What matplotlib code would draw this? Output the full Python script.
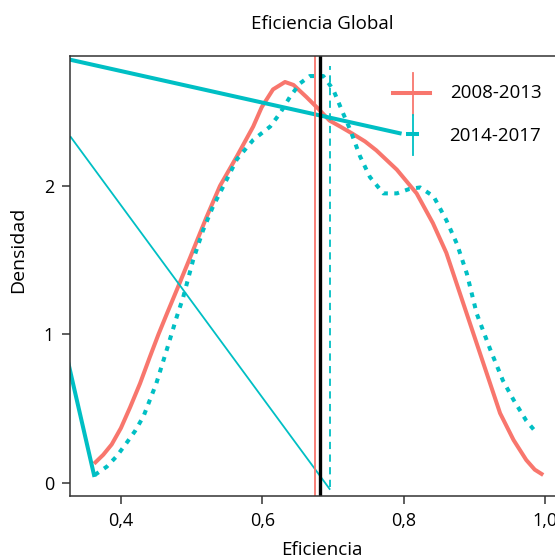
import matplotlib
matplotlib.use("Agg")
import matplotlib.pyplot as plt
from matplotlib.ticker import FuncFormatter

plt.rcParams['font.family'] = ['Open Sans', 'DejaVu Sans']

ROJO = '#F8766D'
TURQ = '#00BFC4'

# densidad 2008-2013
x_0813 = [0.362, 0.375, 0.387, 0.400, 0.413, 0.427, 0.441, 0.453, 0.465, 0.479,
          0.498, 0.521, 0.540, 0.564, 0.587, 0.599, 0.615, 0.632, 0.644, 0.662,
          0.681, 0.695, 0.710, 0.728, 0.745, 0.761, 0.790, 0.818, 0.841, 0.860,
          0.879, 0.898, 0.917, 0.936, 0.955, 0.973, 0.985, 0.997]
y_0813 = [0.13, 0.19, 0.26, 0.37, 0.51, 0.67, 0.85, 1.00, 1.14, 1.30,
          1.52, 1.79, 2.00, 2.20, 2.40, 2.53, 2.65, 2.70, 2.68, 2.60,
          2.51, 2.44, 2.40, 2.35, 2.30, 2.24, 2.11, 1.95, 1.75, 1.55,
          1.28, 1.01, 0.74, 0.47, 0.29, 0.155, 0.09, 0.054]

# densidad 2014-2017
x_1417 = [0.363, 0.380, 0.394, 0.408, 0.420, 0.432, 0.450, 0.465, 0.479, 0.488,
          0.502, 0.516, 0.530, 0.545, 0.564, 0.587, 0.611, 0.625, 0.639, 0.653,
          0.667, 0.686, 0.700, 0.714, 0.724, 0.738, 0.752, 0.771, 0.790, 0.808,
          0.823, 0.842, 0.860, 0.875, 0.889, 0.903, 0.922, 0.940, 0.955, 0.973, 0.988]
y_1417 = [0.054, 0.11, 0.18, 0.27, 0.35, 0.45, 0.67, 0.90, 1.12, 1.25,
          1.50, 1.70, 1.86, 2.00, 2.18, 2.31, 2.40, 2.49, 2.60, 2.69,
          2.74, 2.74, 2.65, 2.49, 2.38, 2.20, 2.06, 1.95, 1.95, 1.98,
          1.99, 1.93, 1.77, 1.61, 1.41, 1.14, 0.90, 0.69, 0.56, 0.42, 0.335]

# segmentos rectos turquesa
seg_grueso_1 = ([0.300, 0.794], [2.88, 2.355])
seg_grueso_2 = ([0.320, 0.362], [0.925, 0.054])
seg_fino = ([0.329, 0.695], [2.33, -0.04])

# medias
media_0813 = 0.674
media_total = 0.681
media_1417 = 0.695

etiquetas = ['2008-2013', '2014-2017']

fig = plt.figure(figsize=(5.55, 5.55), dpi=100)
ax = fig.add_axes([0.1261, 0.1063, 0.908, 0.7928])

ax.plot(x_0813, y_0813, color=ROJO, lw=2.9, solid_capstyle='butt')
ax.plot(x_1417, y_1417, color=TURQ, lw=2.9, linestyle=(0, (1.2, 1.6)))

ax.plot(*seg_grueso_1, color=TURQ, lw=2.9)
ax.plot(*seg_grueso_2, color=TURQ, lw=2.9)
ax.plot(*seg_fino, color=TURQ, lw=1.3)

ax.axvline(media_0813, color=ROJO, lw=1.3)
ax.axvline(media_total, color='black', lw=2.4)
ax.vlines(media_1417, -0.025, 2.81, color=TURQ, lw=1.3, linestyles=(0, (4, 3)))

# leyenda manual
tr = ax.transAxes
ax.plot([0.641, 0.714], [0.916, 0.916], color=ROJO, lw=2.9, transform=tr, clip_on=False)
ax.plot([0.680, 0.680], [0.961, 0.866], color=ROJO, lw=1.3, transform=tr, clip_on=False)
ax.plot([0.680, 0.680], [0.866, 0.775], color=TURQ, lw=1.3, transform=tr, clip_on=False)
ax.plot([0.671, 0.688], [0.822, 0.822], color=TURQ, lw=2.9, transform=tr, clip_on=False)
ax.text(0.754, 0.916, etiquetas[0], transform=tr, va='center', ha='left', fontsize=13.5)
ax.text(0.752, 0.818, etiquetas[1], transform=tr, va='center', ha='left', fontsize=13.5)

ax.set_xlim(0.328, 1.0404)
ax.set_ylim(-0.0875, 2.875)
ax.set_xticks([0.4, 0.6, 0.8, 1.0])
ax.set_yticks([0, 1, 2])
ax.xaxis.set_major_formatter(FuncFormatter(lambda v, p: f'{v:.1f}'.replace('.', ',')))
ax.yaxis.set_major_formatter(FuncFormatter(lambda v, p: f'{v:.0f}'))
ax.tick_params(direction='out', length=5.5, width=1.1, color='#333333',
               labelsize=13)
ax.tick_params(axis='x', pad=6)
ax.tick_params(axis='y', pad=6)

for s in ax.spines.values():
    s.set_color('#333333')
    s.set_linewidth(1.1)

ax.set_title('Eficiencia Global', fontsize=13.5, y=1.073, pad=0, va='center')
ax.set_xlabel('Eficiencia', fontsize=13.5)
ax.xaxis.set_label_coords(0.5, -0.103)
ax.set_ylabel('Densidad', fontsize=14)
ax.yaxis.set_label_coords(-0.085, 0.559)

fig.savefig('out.png', dpi=100)
